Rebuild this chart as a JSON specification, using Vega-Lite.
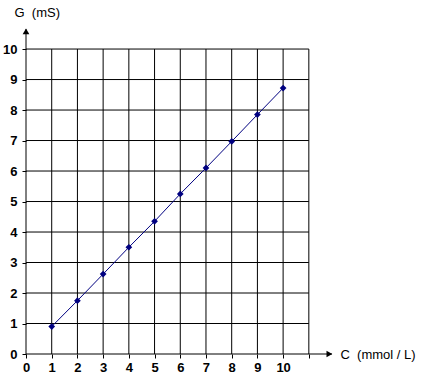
{
  "$schema": "https://vega.github.io/schema/vega-lite/v6.json",
  "width": 307,
  "height": 326,
  "autosize": {"type": "none"},
  "padding": {"left": 26, "top": 28, "right": 95, "bottom": 30},
  "background": "white",
  "config": {"view": {"stroke": null}, "font": "Liberation Sans", "axis": {"labelOverlap": false}},
  "datasets": {
    "grid": [
      {"x": 1, "y": 0, "x2": 1, "y2": 10},
      {"x": 2, "y": 0, "x2": 2, "y2": 10},
      {"x": 3, "y": 0, "x2": 3, "y2": 10},
      {"x": 4, "y": 0, "x2": 4, "y2": 10},
      {"x": 5, "y": 0, "x2": 5, "y2": 10},
      {"x": 6, "y": 0, "x2": 6, "y2": 10},
      {"x": 7, "y": 0, "x2": 7, "y2": 10},
      {"x": 8, "y": 0, "x2": 8, "y2": 10},
      {"x": 9, "y": 0, "x2": 9, "y2": 10},
      {"x": 10, "y": 0, "x2": 10, "y2": 10},
      {"x": 11, "y": 0, "x2": 11, "y2": 10},
      {"x": 0, "y": 1, "x2": 11, "y2": 1},
      {"x": 0, "y": 2, "x2": 11, "y2": 2},
      {"x": 0, "y": 3, "x2": 11, "y2": 3},
      {"x": 0, "y": 4, "x2": 11, "y2": 4},
      {"x": 0, "y": 5, "x2": 11, "y2": 5},
      {"x": 0, "y": 6, "x2": 11, "y2": 6},
      {"x": 0, "y": 7, "x2": 11, "y2": 7},
      {"x": 0, "y": 8, "x2": 11, "y2": 8},
      {"x": 0, "y": 9, "x2": 11, "y2": 9},
      {"x": 0, "y": 10, "x2": 11, "y2": 10},
      {"x": 0, "y": 0, "x2": 11.9, "y2": 0},
      {"x": 0, "y": 0, "x2": 0, "y2": 10.65}
    ],
    "arrows": [
      {"x": 11.8, "y": 0, "shape": "triangle-right"},
      {"x": 0, "y": 10.58, "shape": "triangle-up"}
    ],
    "points": [
      {"x": 1, "y": 0.9},
      {"x": 2, "y": 1.75},
      {"x": 3, "y": 2.62},
      {"x": 4, "y": 3.5},
      {"x": 5, "y": 4.35},
      {"x": 6, "y": 5.25},
      {"x": 7, "y": 6.1},
      {"x": 8, "y": 6.97},
      {"x": 9, "y": 7.85},
      {"x": 10, "y": 8.72}
    ]
  },
  "encoding": {
    "x": {
      "field": "x", "type": "quantitative",
      "scale": {"domain": [0, 11.94], "nice": false, "zero": false},
      "axis": {
        "values": [0, 1, 2, 3, 4, 5, 6, 7, 8, 9, 10, 11],
        "labelExpr": "datum.value == 11 ? '' : datum.label",
        "labelOverlap": false,
        "domain": false, "grid": false,
        "ticks": true, "tickColor": "black", "tickSize": 4, "tickWidth": 1,
        "labelFont": "Liberation Sans", "labelFontWeight": "bold", "labelFontSize": 13,
        "labelColor": "black", "labelPadding": 3, "labelFlush": false,
        "title": "C\u00a0\u00a0(mmol / L)",
        "titleFont": "Liberation Sans", "titleFontSize": 13, "titleFontWeight": "normal",
        "titleColor": "black", "titleAlign": "left", "titleBaseline": "middle",
        "titleAnchor": "start", "titleX": 314, "titleY": 0
      }
    },
    "y": {
      "field": "y", "type": "quantitative",
      "scale": {"domain": [0, 10.69], "nice": false, "zero": false},
      "axis": {
        "values": [0, 1, 2, 3, 4, 5, 6, 7, 8, 9, 10],
        "labelOverlap": false,
        "domain": false, "grid": false,
        "ticks": true, "tickColor": "black", "tickSize": 4, "tickWidth": 1,
        "labelFont": "Liberation Sans", "labelFontWeight": "bold", "labelFontSize": 13,
        "labelColor": "black", "labelPadding": 5, "labelFlush": false,
        "title": "G\u00a0\u00a0(mS)",
        "titleFont": "Liberation Sans", "titleFontSize": 13, "titleFontWeight": "normal",
        "titleColor": "black", "titleAngle": 0, "titleAlign": "left", "titleBaseline": "middle",
        "titleAnchor": "start", "titleX": -12, "titleY": -16
      }
    }
  },
  "layer": [
    {
      "data": {"name": "grid"},
      "mark": {"type": "rule", "color": "black", "strokeWidth": 1},
      "encoding": {
        "x2": {"field": "x2"},
        "y2": {"field": "y2"}
      }
    },
    {
      "data": {"name": "arrows"},
      "mark": {"type": "point", "filled": true, "color": "black", "size": 45, "opacity": 1},
      "encoding": {
        "shape": {"field": "shape", "type": "nominal", "scale": null}
      }
    },
    {
      "data": {"name": "points"},
      "mark": {"type": "line", "color": "#000080", "strokeWidth": 1},
      "encoding": {}
    },
    {
      "data": {"name": "points"},
      "mark": {"type": "point", "filled": true, "shape": "diamond", "color": "#000080", "size": 45, "opacity": 1},
      "encoding": {}
    }
  ]
}
